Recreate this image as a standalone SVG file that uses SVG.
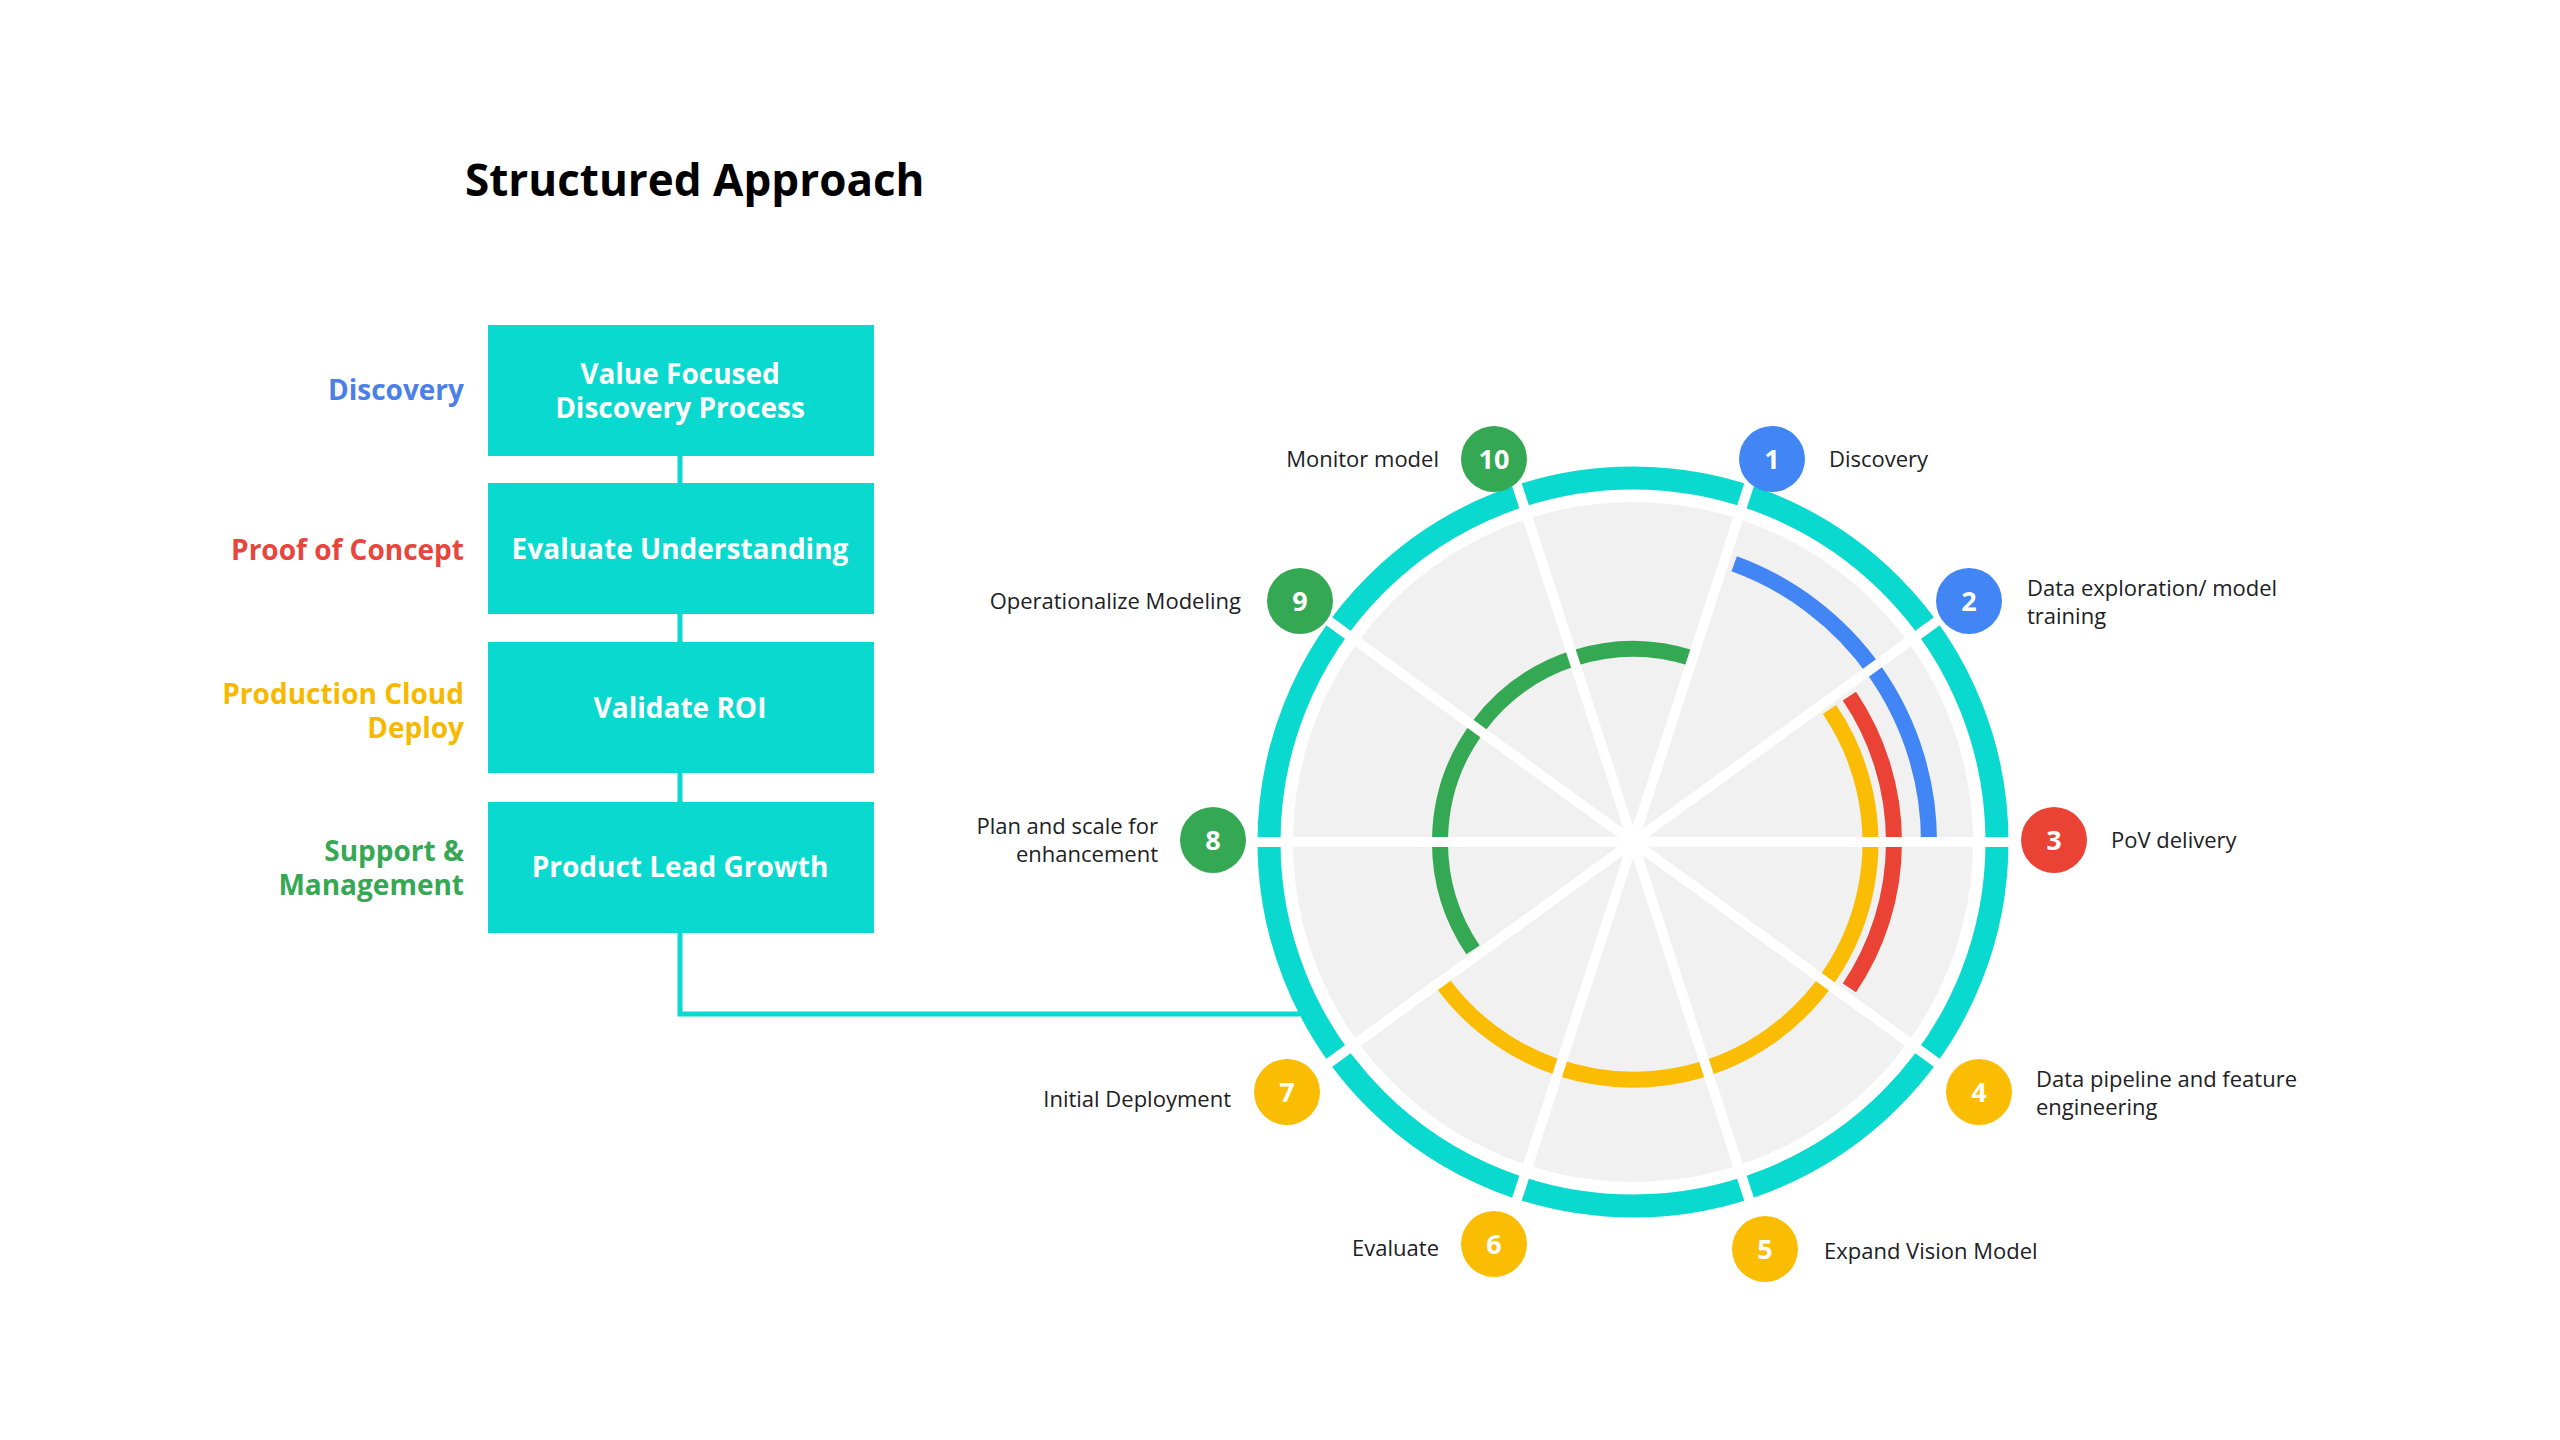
<svg xmlns="http://www.w3.org/2000/svg" width="2560" height="1440" viewBox="0 0 2560 1440">
<style>
.f{font-family:"Open Sans","Liberation Sans",sans-serif}
.box{fill:#0ad9cf}
.bt{font-family:"Open Sans","Liberation Sans",sans-serif;font-weight:700;font-size:28px;fill:#fff;text-anchor:middle}
.lt{font-family:"Open Sans","Liberation Sans",sans-serif;font-weight:700;font-size:28px;text-anchor:end}
.lab{font-family:"Open Sans","Liberation Sans",sans-serif;font-size:22px;fill:#202124}
.num{font-family:"Open Sans","Liberation Sans",sans-serif;font-weight:700;font-size:27px;fill:#fff;text-anchor:middle}
.arc{fill:none;stroke-width:16}
.spk{stroke:#fff;stroke-width:10}
</style>
<rect width="2560" height="1440" fill="#fff"/>
<text x="465" y="196" class="f" font-size="44" font-weight="700" fill="#000">Structured Approach</text>
<g id="connectors" stroke="#0ad9cf" stroke-width="5" fill="none">
<line x1="680" y1="456" x2="680" y2="483"/>
<line x1="680" y1="614" x2="680" y2="642"/>
<line x1="680" y1="773" x2="680" y2="802"/>
<polyline points="680,933 680,1014 1300,1014"/>
</g>
<g id="labels">
<text x="464" y="400" class="lt" fill="#4a80e8">Discovery</text>
<text x="464" y="560" class="lt" fill="#e8453c">Proof of Concept</text>
<text x="464" y="704" class="lt" fill="#f7b900">Production Cloud</text>
<text x="464" y="738" class="lt" fill="#f7b900">Deploy</text>
<text x="464" y="861" class="lt" fill="#34a853">Support &amp;</text>
<text x="464" y="895" class="lt" fill="#34a853">Management</text>
</g>
<g id="box1"><rect class="box" x="488" y="325" width="386" height="131"/><text x="680" y="384" class="bt">Value Focused</text><text x="680" y="418" class="bt">Discovery Process</text></g>
<g id="box2"><rect class="box" x="488" y="483" width="386" height="131"/><text x="680" y="559" class="bt">Evaluate Understanding</text></g>
<g id="box3"><rect class="box" x="488" y="642" width="386" height="131"/><text x="680" y="718" class="bt">Validate ROI</text></g>
<g id="box4"><rect class="box" x="488" y="802" width="386" height="131"/><text x="680" y="877" class="bt">Product Lead Growth</text></g>
<g id="wheel">
<circle cx="1633" cy="842" r="364" fill="none" stroke="#0ad9cf" stroke-width="23"/>
<circle cx="1633" cy="842" r="340" fill="#f1f1f1"/>
<path class="arc" stroke="#4285f4" d="M1734.2,563.8 A296,296 0 0 1 1929,842"/>
<path class="arc" stroke="#ea4335" d="M1849.4,696.1 A261,261 0 0 1 1849.4,987.9"/>
<path class="arc" stroke="#fbbc04" d="M1829.5,709.5 A237,237 0 0 1 1441.3,981.4"/>
<path class="arc" stroke="#34a853" d="M1473,949.9 A193,193 0 0 1 1692.6,658.4"/>
<g class="spk">
<line x1="1243" y1="842" x2="2023" y2="842"/>
<line x1="1317.5" y1="612.8" x2="1948.5" y2="1071.2"/>
<line x1="1512.5" y1="471.1" x2="1753.5" y2="1212.9"/>
<line x1="1753.5" y1="471.1" x2="1512.5" y2="1212.9"/>
<line x1="1948.5" y1="612.8" x2="1317.5" y2="1071.2"/>
</g>
</g>
<g id="n1"><circle cx="1772" cy="459" r="33" fill="#4285f4"/><text x="1772" y="469" class="num">1</text><text x="1829" y="467" class="lab">Discovery</text></g>
<g id="n2"><circle cx="1969" cy="601" r="33" fill="#4285f4"/><text x="1969" y="611" class="num">2</text><text x="2027" y="596" class="lab">Data exploration/ model</text><text x="2027" y="624" class="lab">training</text></g>
<g id="n3"><circle cx="2054" cy="840" r="33" fill="#ea4335"/><text x="2054" y="850" class="num">3</text><text x="2111" y="848" class="lab">PoV delivery</text></g>
<g id="n4"><circle cx="1979" cy="1092" r="33" fill="#fbbc04"/><text x="1979" y="1102" class="num">4</text><text x="2036" y="1087" class="lab">Data pipeline and feature</text><text x="2036" y="1115" class="lab">engineering</text></g>
<g id="n5"><circle cx="1765" cy="1249" r="33" fill="#fbbc04"/><text x="1765" y="1259" class="num">5</text><text x="1824" y="1259" class="lab">Expand  Vision Model</text></g>
<g id="n6"><circle cx="1494" cy="1244" r="33" fill="#fbbc04"/><text x="1494" y="1254" class="num">6</text><text x="1439" y="1256" class="lab" text-anchor="end">Evaluate</text></g>
<g id="n7"><circle cx="1287" cy="1092" r="33" fill="#fbbc04"/><text x="1287" y="1102" class="num">7</text><text x="1231" y="1107" class="lab" text-anchor="end">Initial Deployment</text></g>
<g id="n8"><circle cx="1213" cy="840" r="33" fill="#34a853"/><text x="1213" y="850" class="num">8</text><text x="1158" y="834" class="lab" text-anchor="end">Plan and scale for</text><text x="1158" y="862" class="lab" text-anchor="end">enhancement</text></g>
<g id="n9"><circle cx="1300" cy="601" r="33" fill="#34a853"/><text x="1300" y="611" class="num">9</text><text x="1241" y="609" class="lab" text-anchor="end">Operationalize Modeling</text></g>
<g id="n10"><circle cx="1494" cy="459" r="33" fill="#34a853"/><text x="1494" y="469" class="num">10</text><text x="1439" y="467" class="lab" text-anchor="end">Monitor model</text></g>
</svg>
